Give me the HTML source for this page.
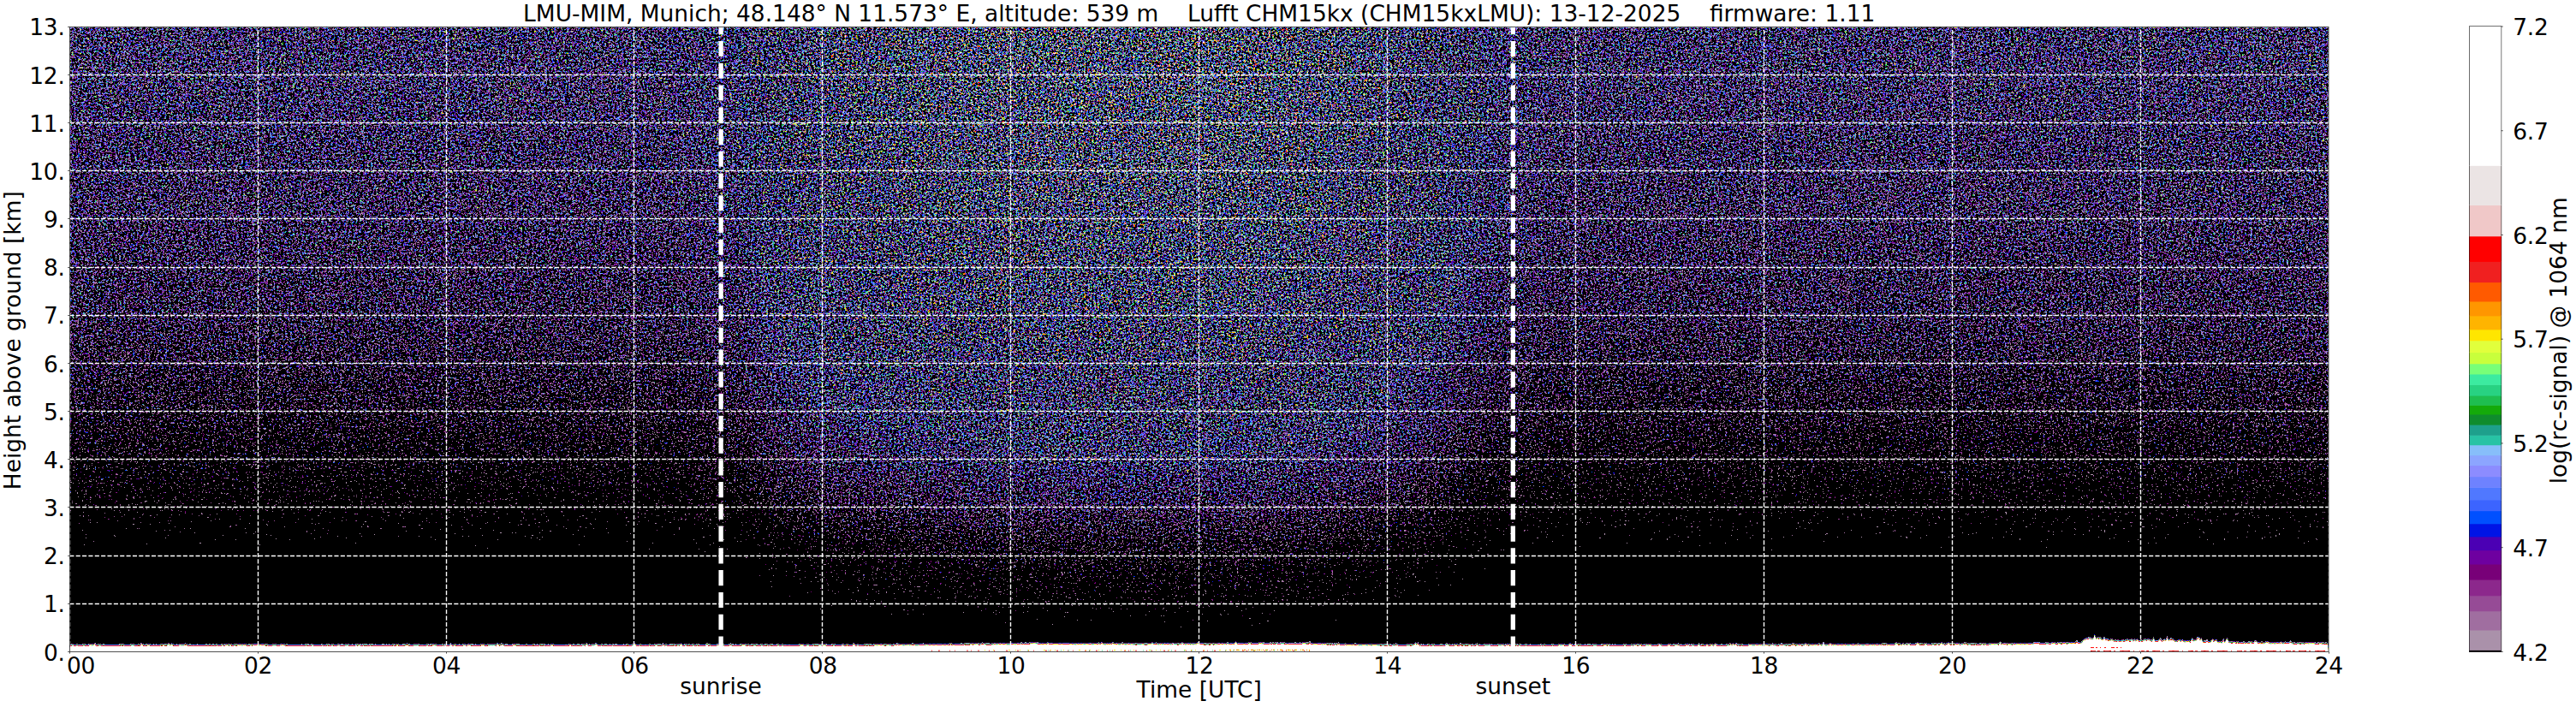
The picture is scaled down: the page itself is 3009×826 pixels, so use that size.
<!DOCTYPE html>
<html lang="en"><head><meta charset="utf-8"><title>CHM15kx ceilometer quicklook</title>
<style>html,body{margin:0;padding:0;background:#fff}svg{display:block}text.n{letter-spacing:-0.3px}text{font-family:"DejaVu Sans","Liberation Sans",sans-serif;font-size:26.45px;fill:#000}</style></head><body>
<svg width="3009" height="826" viewBox="0 0 3009 826">
<defs>
<linearGradient id="gy" gradientUnits="userSpaceOnUse" x1="0" y1="31.20" x2="0" y2="761.50"><stop offset="0.0000" stop-color="rgb(0,0,0)"/><stop offset="0.0192" stop-color="rgb(0,0,0)"/><stop offset="0.0385" stop-color="rgb(0,0,0)"/><stop offset="0.0577" stop-color="rgb(1,0,0)"/><stop offset="0.0769" stop-color="rgb(2,0,0)"/><stop offset="0.0962" stop-color="rgb(2,0,0)"/><stop offset="0.1154" stop-color="rgb(3,0,0)"/><stop offset="0.1346" stop-color="rgb(4,0,0)"/><stop offset="0.1538" stop-color="rgb(5,0,0)"/><stop offset="0.1731" stop-color="rgb(6,0,0)"/><stop offset="0.1923" stop-color="rgb(7,0,0)"/><stop offset="0.2115" stop-color="rgb(7,0,0)"/><stop offset="0.2308" stop-color="rgb(8,0,0)"/><stop offset="0.2500" stop-color="rgb(9,0,0)"/><stop offset="0.2692" stop-color="rgb(10,0,0)"/><stop offset="0.2885" stop-color="rgb(11,0,0)"/><stop offset="0.3077" stop-color="rgb(12,0,0)"/><stop offset="0.3269" stop-color="rgb(13,0,0)"/><stop offset="0.3462" stop-color="rgb(15,0,0)"/><stop offset="0.3654" stop-color="rgb(16,0,0)"/><stop offset="0.3846" stop-color="rgb(17,0,0)"/><stop offset="0.4038" stop-color="rgb(18,0,0)"/><stop offset="0.4231" stop-color="rgb(19,0,0)"/><stop offset="0.4423" stop-color="rgb(20,0,0)"/><stop offset="0.4615" stop-color="rgb(22,0,0)"/><stop offset="0.4808" stop-color="rgb(25,0,0)"/><stop offset="0.5000" stop-color="rgb(27,0,0)"/><stop offset="0.5192" stop-color="rgb(30,0,0)"/><stop offset="0.5385" stop-color="rgb(33,0,0)"/><stop offset="0.5577" stop-color="rgb(37,0,0)"/><stop offset="0.5769" stop-color="rgb(41,0,0)"/><stop offset="0.5962" stop-color="rgb(44,0,0)"/><stop offset="0.6154" stop-color="rgb(48,0,0)"/><stop offset="0.6346" stop-color="rgb(52,0,0)"/><stop offset="0.6538" stop-color="rgb(57,0,0)"/><stop offset="0.6731" stop-color="rgb(62,0,0)"/><stop offset="0.6923" stop-color="rgb(66,0,0)"/><stop offset="0.7115" stop-color="rgb(73,0,0)"/><stop offset="0.7308" stop-color="rgb(80,0,0)"/><stop offset="0.7500" stop-color="rgb(87,0,0)"/><stop offset="0.7692" stop-color="rgb(94,0,0)"/><stop offset="0.7885" stop-color="rgb(104,0,0)"/><stop offset="0.8077" stop-color="rgb(113,0,0)"/><stop offset="0.8269" stop-color="rgb(125,0,0)"/><stop offset="0.8462" stop-color="rgb(134,0,0)"/><stop offset="0.8654" stop-color="rgb(142,0,0)"/><stop offset="0.8846" stop-color="rgb(150,0,0)"/><stop offset="0.9038" stop-color="rgb(160,0,0)"/><stop offset="0.9231" stop-color="rgb(173,0,0)"/><stop offset="0.9269" stop-color="rgb(175,0,0)"/><stop offset="0.9308" stop-color="rgb(178,0,0)"/><stop offset="0.9346" stop-color="rgb(182,0,0)"/><stop offset="0.9385" stop-color="rgb(185,0,0)"/><stop offset="0.9423" stop-color="rgb(188,0,0)"/><stop offset="0.9462" stop-color="rgb(192,0,0)"/><stop offset="0.9500" stop-color="rgb(196,0,0)"/><stop offset="0.9538" stop-color="rgb(201,0,0)"/><stop offset="0.9577" stop-color="rgb(206,0,0)"/><stop offset="0.9615" stop-color="rgb(211,0,0)"/><stop offset="0.9654" stop-color="rgb(217,0,0)"/><stop offset="0.9692" stop-color="rgb(223,0,0)"/><stop offset="0.9731" stop-color="rgb(231,0,0)"/><stop offset="0.9769" stop-color="rgb(239,0,0)"/><stop offset="0.9808" stop-color="rgb(249,0,0)"/><stop offset="0.9846" stop-color="rgb(255,0,0)"/><stop offset="1" stop-color="rgb(255,0,0)"/></linearGradient>
<linearGradient id="gx" gradientUnits="userSpaceOnUse" x1="81.30" y1="0" x2="2720.00" y2="0"><stop offset="0.00000" stop-color="rgb(0,84,0)"/><stop offset="0.00521" stop-color="rgb(0,84,0)"/><stop offset="0.01042" stop-color="rgb(0,84,0)"/><stop offset="0.01562" stop-color="rgb(0,84,0)"/><stop offset="0.02083" stop-color="rgb(0,84,0)"/><stop offset="0.02604" stop-color="rgb(0,84,0)"/><stop offset="0.03125" stop-color="rgb(0,84,0)"/><stop offset="0.03646" stop-color="rgb(0,84,0)"/><stop offset="0.04167" stop-color="rgb(0,84,0)"/><stop offset="0.04688" stop-color="rgb(0,84,0)"/><stop offset="0.05208" stop-color="rgb(0,84,0)"/><stop offset="0.05729" stop-color="rgb(0,84,0)"/><stop offset="0.06250" stop-color="rgb(0,84,0)"/><stop offset="0.06771" stop-color="rgb(0,84,0)"/><stop offset="0.07292" stop-color="rgb(0,84,0)"/><stop offset="0.07812" stop-color="rgb(0,84,0)"/><stop offset="0.08333" stop-color="rgb(0,84,0)"/><stop offset="0.08854" stop-color="rgb(0,84,0)"/><stop offset="0.09375" stop-color="rgb(0,84,0)"/><stop offset="0.09896" stop-color="rgb(0,84,0)"/><stop offset="0.10417" stop-color="rgb(0,84,0)"/><stop offset="0.10938" stop-color="rgb(0,84,0)"/><stop offset="0.11458" stop-color="rgb(0,84,0)"/><stop offset="0.11979" stop-color="rgb(0,84,0)"/><stop offset="0.12500" stop-color="rgb(0,84,0)"/><stop offset="0.13021" stop-color="rgb(0,84,0)"/><stop offset="0.13542" stop-color="rgb(0,84,0)"/><stop offset="0.14062" stop-color="rgb(0,84,0)"/><stop offset="0.14583" stop-color="rgb(0,84,0)"/><stop offset="0.15104" stop-color="rgb(0,84,0)"/><stop offset="0.15625" stop-color="rgb(0,84,0)"/><stop offset="0.16146" stop-color="rgb(0,84,0)"/><stop offset="0.16667" stop-color="rgb(0,84,0)"/><stop offset="0.17188" stop-color="rgb(0,84,0)"/><stop offset="0.17708" stop-color="rgb(0,84,0)"/><stop offset="0.18229" stop-color="rgb(0,84,0)"/><stop offset="0.18750" stop-color="rgb(0,84,0)"/><stop offset="0.19271" stop-color="rgb(0,84,0)"/><stop offset="0.19792" stop-color="rgb(0,84,0)"/><stop offset="0.20312" stop-color="rgb(0,84,0)"/><stop offset="0.20833" stop-color="rgb(0,84,0)"/><stop offset="0.21354" stop-color="rgb(0,84,0)"/><stop offset="0.21875" stop-color="rgb(0,84,0)"/><stop offset="0.22396" stop-color="rgb(0,84,0)"/><stop offset="0.22917" stop-color="rgb(0,84,0)"/><stop offset="0.23438" stop-color="rgb(0,84,0)"/><stop offset="0.23958" stop-color="rgb(0,84,0)"/><stop offset="0.24479" stop-color="rgb(0,84,0)"/><stop offset="0.25000" stop-color="rgb(0,84,0)"/><stop offset="0.25521" stop-color="rgb(0,84,0)"/><stop offset="0.26042" stop-color="rgb(0,84,0)"/><stop offset="0.26562" stop-color="rgb(0,84,0)"/><stop offset="0.27083" stop-color="rgb(0,82,0)"/><stop offset="0.27604" stop-color="rgb(0,79,0)"/><stop offset="0.28125" stop-color="rgb(0,77,0)"/><stop offset="0.28646" stop-color="rgb(0,74,0)"/><stop offset="0.29167" stop-color="rgb(0,69,0)"/><stop offset="0.29688" stop-color="rgb(0,61,0)"/><stop offset="0.30208" stop-color="rgb(0,53,0)"/><stop offset="0.30729" stop-color="rgb(0,46,0)"/><stop offset="0.31250" stop-color="rgb(0,39,0)"/><stop offset="0.31771" stop-color="rgb(0,35,0)"/><stop offset="0.32292" stop-color="rgb(0,31,0)"/><stop offset="0.32812" stop-color="rgb(0,26,0)"/><stop offset="0.33333" stop-color="rgb(0,21,0)"/><stop offset="0.33854" stop-color="rgb(0,20,0)"/><stop offset="0.34375" stop-color="rgb(0,18,0)"/><stop offset="0.34896" stop-color="rgb(0,17,0)"/><stop offset="0.35417" stop-color="rgb(0,16,0)"/><stop offset="0.35938" stop-color="rgb(0,14,0)"/><stop offset="0.36458" stop-color="rgb(0,13,0)"/><stop offset="0.36979" stop-color="rgb(0,11,0)"/><stop offset="0.37500" stop-color="rgb(0,10,0)"/><stop offset="0.38021" stop-color="rgb(0,9,0)"/><stop offset="0.38542" stop-color="rgb(0,8,0)"/><stop offset="0.39062" stop-color="rgb(0,7,0)"/><stop offset="0.39583" stop-color="rgb(0,6,0)"/><stop offset="0.40104" stop-color="rgb(0,5,0)"/><stop offset="0.40625" stop-color="rgb(0,4,0)"/><stop offset="0.41146" stop-color="rgb(0,3,0)"/><stop offset="0.41667" stop-color="rgb(0,3,0)"/><stop offset="0.42188" stop-color="rgb(0,2,0)"/><stop offset="0.42708" stop-color="rgb(0,1,0)"/><stop offset="0.43229" stop-color="rgb(0,1,0)"/><stop offset="0.43750" stop-color="rgb(0,0,0)"/><stop offset="0.44271" stop-color="rgb(0,0,0)"/><stop offset="0.44792" stop-color="rgb(0,0,0)"/><stop offset="0.45312" stop-color="rgb(0,0,0)"/><stop offset="0.45833" stop-color="rgb(0,0,0)"/><stop offset="0.46354" stop-color="rgb(0,0,0)"/><stop offset="0.46875" stop-color="rgb(0,0,0)"/><stop offset="0.47396" stop-color="rgb(0,0,0)"/><stop offset="0.47917" stop-color="rgb(0,0,0)"/><stop offset="0.48438" stop-color="rgb(0,0,0)"/><stop offset="0.48958" stop-color="rgb(0,0,0)"/><stop offset="0.49479" stop-color="rgb(0,0,0)"/><stop offset="0.50000" stop-color="rgb(0,0,0)"/><stop offset="0.50521" stop-color="rgb(0,0,0)"/><stop offset="0.51042" stop-color="rgb(0,0,0)"/><stop offset="0.51562" stop-color="rgb(0,0,0)"/><stop offset="0.52083" stop-color="rgb(0,0,0)"/><stop offset="0.52604" stop-color="rgb(0,2,0)"/><stop offset="0.53125" stop-color="rgb(0,3,0)"/><stop offset="0.53646" stop-color="rgb(0,4,0)"/><stop offset="0.54167" stop-color="rgb(0,6,0)"/><stop offset="0.54688" stop-color="rgb(0,7,0)"/><stop offset="0.55208" stop-color="rgb(0,9,0)"/><stop offset="0.55729" stop-color="rgb(0,11,0)"/><stop offset="0.56250" stop-color="rgb(0,12,0)"/><stop offset="0.56771" stop-color="rgb(0,15,0)"/><stop offset="0.57292" stop-color="rgb(0,17,0)"/><stop offset="0.57812" stop-color="rgb(0,19,0)"/><stop offset="0.58333" stop-color="rgb(0,21,0)"/><stop offset="0.58854" stop-color="rgb(0,25,0)"/><stop offset="0.59375" stop-color="rgb(0,29,0)"/><stop offset="0.59896" stop-color="rgb(0,32,0)"/><stop offset="0.60417" stop-color="rgb(0,36,0)"/><stop offset="0.60938" stop-color="rgb(0,42,0)"/><stop offset="0.61458" stop-color="rgb(0,48,0)"/><stop offset="0.61979" stop-color="rgb(0,53,0)"/><stop offset="0.62500" stop-color="rgb(0,58,0)"/><stop offset="0.63021" stop-color="rgb(0,66,0)"/><stop offset="0.63542" stop-color="rgb(0,72,0)"/><stop offset="0.64062" stop-color="rgb(0,77,0)"/><stop offset="0.64583" stop-color="rgb(0,79,0)"/><stop offset="0.65104" stop-color="rgb(0,81,0)"/><stop offset="0.65625" stop-color="rgb(0,83,0)"/><stop offset="0.66146" stop-color="rgb(0,84,0)"/><stop offset="0.66667" stop-color="rgb(0,84,0)"/><stop offset="0.67188" stop-color="rgb(0,84,0)"/><stop offset="0.67708" stop-color="rgb(0,84,0)"/><stop offset="0.68229" stop-color="rgb(0,84,0)"/><stop offset="0.68750" stop-color="rgb(0,84,0)"/><stop offset="0.69271" stop-color="rgb(0,84,0)"/><stop offset="0.69792" stop-color="rgb(0,84,0)"/><stop offset="0.70312" stop-color="rgb(0,84,0)"/><stop offset="0.70833" stop-color="rgb(0,84,0)"/><stop offset="0.71354" stop-color="rgb(0,84,0)"/><stop offset="0.71875" stop-color="rgb(0,84,0)"/><stop offset="0.72396" stop-color="rgb(0,84,0)"/><stop offset="0.72917" stop-color="rgb(0,84,0)"/><stop offset="0.73438" stop-color="rgb(0,84,0)"/><stop offset="0.73958" stop-color="rgb(0,84,0)"/><stop offset="0.74479" stop-color="rgb(0,84,0)"/><stop offset="0.75000" stop-color="rgb(0,84,0)"/><stop offset="0.75521" stop-color="rgb(0,84,0)"/><stop offset="0.76042" stop-color="rgb(0,84,0)"/><stop offset="0.76562" stop-color="rgb(0,84,0)"/><stop offset="0.77083" stop-color="rgb(0,84,0)"/><stop offset="0.77604" stop-color="rgb(0,84,0)"/><stop offset="0.78125" stop-color="rgb(0,84,0)"/><stop offset="0.78646" stop-color="rgb(0,84,0)"/><stop offset="0.79167" stop-color="rgb(0,84,0)"/><stop offset="0.79688" stop-color="rgb(0,84,0)"/><stop offset="0.80208" stop-color="rgb(0,84,0)"/><stop offset="0.80729" stop-color="rgb(0,84,0)"/><stop offset="0.81250" stop-color="rgb(0,84,0)"/><stop offset="0.81771" stop-color="rgb(0,84,0)"/><stop offset="0.82292" stop-color="rgb(0,84,0)"/><stop offset="0.82812" stop-color="rgb(0,84,0)"/><stop offset="0.83333" stop-color="rgb(0,84,0)"/><stop offset="0.83854" stop-color="rgb(0,84,0)"/><stop offset="0.84375" stop-color="rgb(0,84,0)"/><stop offset="0.84896" stop-color="rgb(0,84,0)"/><stop offset="0.85417" stop-color="rgb(0,84,0)"/><stop offset="0.85938" stop-color="rgb(0,84,0)"/><stop offset="0.86458" stop-color="rgb(0,84,0)"/><stop offset="0.86979" stop-color="rgb(0,84,0)"/><stop offset="0.87500" stop-color="rgb(0,84,0)"/><stop offset="0.88021" stop-color="rgb(0,84,0)"/><stop offset="0.88542" stop-color="rgb(0,84,0)"/><stop offset="0.89062" stop-color="rgb(0,84,0)"/><stop offset="0.89583" stop-color="rgb(0,84,0)"/><stop offset="0.90104" stop-color="rgb(0,84,0)"/><stop offset="0.90625" stop-color="rgb(0,84,0)"/><stop offset="0.91146" stop-color="rgb(0,84,0)"/><stop offset="0.91667" stop-color="rgb(0,84,0)"/><stop offset="0.92188" stop-color="rgb(0,84,0)"/><stop offset="0.92708" stop-color="rgb(0,84,0)"/><stop offset="0.93229" stop-color="rgb(0,84,0)"/><stop offset="0.93750" stop-color="rgb(0,84,0)"/><stop offset="0.94271" stop-color="rgb(0,84,0)"/><stop offset="0.94792" stop-color="rgb(0,84,0)"/><stop offset="0.95312" stop-color="rgb(0,84,0)"/><stop offset="0.95833" stop-color="rgb(0,84,0)"/><stop offset="0.96354" stop-color="rgb(0,84,0)"/><stop offset="0.96875" stop-color="rgb(0,84,0)"/><stop offset="0.97396" stop-color="rgb(0,84,0)"/><stop offset="0.97917" stop-color="rgb(0,84,0)"/><stop offset="0.98438" stop-color="rgb(0,84,0)"/><stop offset="0.98958" stop-color="rgb(0,84,0)"/><stop offset="0.99479" stop-color="rgb(0,84,0)"/><stop offset="1.00000" stop-color="rgb(0,84,0)"/></linearGradient>
<filter id="nf" filterUnits="userSpaceOnUse" x="81.30" y="31.20" width="2638.70" height="730.30" color-interpolation-filters="sRGB">
<feTurbulence type="fractalNoise" baseFrequency="0.45 0.41" numOctaves="2" seed="3"/><feColorMatrix type="matrix" values="1 0 0 0 0 1 0 0 0 0 1 0 0 0 0 0 0 0 0 1" result="c1"/><feTurbulence type="fractalNoise" baseFrequency="0.38 0.47" numOctaves="2" seed="11"/><feColorMatrix type="matrix" values="1 0 0 0 0 1 0 0 0 0 1 0 0 0 0 0 0 0 0 1" result="c2"/><feComposite in="c1" in2="c2" operator="arithmetic" k1="0" k2=".75" k3=".75" k4="-.25" result="t"/>
<feComponentTransfer in="t" result="hh"><feFuncR type="table" tableValues="1 1 1 1 1 1 1 1 1 1 1 1 1 1 1 1 1 1 1 1 1 1 1 1 1 1 1 1 1 1 1 1 1 1 1 1 1 1 1 1 1 1 1 1 1 1 1 1 1 1 1 1 1 1 1 1 1 1 1 1 1 1 1 1 1 1 1 1 1 1 1 1 1 1 1 1 1 1 1 1 1 1 1 1 1 1 1 1 1 1 1 1 1 1 1 1 1 1 1 1 1 1 1 1 1 1 1 1 .9422 .8706 .7971 .7519 .722 .6913 .6676 .6441 .6229 .6124 .6015 .5903 .5789 .5694 .562 .5543 .5465 .5384 .5301 .5217 .5129 .5074 .5032 .4988 .4944 .4899 .4853 .4805 .4757 .4708 .4667 .4631 .4595 .4558 .452 .4482 .4442 .4402 .4362 .432 .4278 .4236 .4191 .4145 .4097 .4047 .3997 .3945 .3893 .384 .3786 .3734 .3683 .3632 .358 .3528 .3474 .3418 .3363 .3306 .3248 .3195 .3145 .3093 .3041 .2987 .2933 .2882 .2833 .2784 .2733 .2681 .2629 .2576 .2522 .2477 .2437 .2398 .2358 .2317 .2274 .2231 .2187 .2144 .21 .2054 .2007 .1961 .1913 .1864 .1814 .1762 .1711 .1661 .1624 .1587 .1549 .1511 .1474 .1435 .1395 .1352 .131 .1268 .1235 .121 .1184 .1157 .113 .1103 .1075 .1047 .1018 .0989 .096 .093 .0901 .087 .0838 .0808 .0776 .0744 .0711 .0678 .0645 .0625 .0625 .0625 .0625 .0625 .0625 .0625 .0625 .0625 .0625 .0625 .0625 .0625 .0625 .0625 .0625 .0625 .0625 .0625 .0625 .0625 .0625 .0625"/><feFuncG type="table" tableValues="1 1 1 1 1 1 1 1 1 1 1 1 1 1 1 1 1 1 1 1 1 1 1 1 1 1 1 1 1 1 1 1 1 1 1 1 1 1 1 1 1 1 1 1 1 1 1 1 1 1 1 1 1 1 1 1 1 1 1 1 1 1 1 1 1 1 1 1 1 1 1 1 1 1 1 1 1 1 1 1 1 1 1 1 1 1 1 1 1 1 1 1 1 1 1 1 1 1 1 1 1 1 1 1 1 1 1 1 .9422 .8706 .7971 .7378 .6854 .6317 .6051 .5816 .559 .5414 .5232 .5046 .4917 .4805 .4689 .457 .4488 .4431 .4372 .4313 .4251 .4188 .4124 .4059 .3992 .3923 .3853 .3786 .3747 .3707 .3667 .3625 .3583 .354 .3496 .3451 .3405 .3358 .3319 .3289 .3258 .3227 .3195 .3162 .3128 .3094 .306 .3024 .2989 .2952 .2915 .2878 .2839 .28 .276 .2722 .2693 .2663 .2633 .2603 .2571 .254 .2508 .2475 .2442 .2405 .2367 .2327 .2288 .2248 .2207 .2172 .2136 .21 .2063 .2026 .1988 .195 .1912 .1873 .1837 .1801 .1765 .1728 .1692 .1654 .1617 .1579 .154 .15 .146 .1441 .1422 .1403 .1384 .1364 .1344 .1324 .1305 .1284 .1263 .1241 .1218 .1196 .1173 .1151 .1127 .1103 .1079 .1055 .1029 .1004 .0978 .0952 .0926 .0899 .0873 .0845 .0817 .0789 .0761 .0732 .0703 .0673 .0643 .0625 .0625 .0625 .0625 .0625 .0625 .0625 .0625 .0625 .0625 .0625 .0625 .0625 .0625 .0625 .0625 .0625 .0625 .0625 .0625 .0625 .0625 .0625"/><feFuncB type="table" tableValues="1 1 1 1 1 1 1 1 1 1 1 1 1 1 1 1 1 1 1 1 1 1 1 1 1 1 1 1 1 1 1 1 1 1 1 1 1 1 1 1 1 1 1 1 1 1 1 1 1 1 1 1 1 1 1 1 1 1 1 1 1 1 1 1 1 1 1 1 1 1 1 1 1 1 1 1 1 1 1 1 1 1 1 1 1 1 1 1 1 1 1 1 1 1 1 1 1 1 1 1 1 1 1 1 1 1 1 1 1 1 1 1 1 1 1 1 1 1 .7618 .5924 .5256 .4771 .4483 .4186 .4036 .399 .3944 .3896 .3847 .3796 .3754 .3712 .3668 .3624 .3579 .3533 .3488 .3445 .3402 .3358 .3313 .3267 .3222 .3183 .3144 .3105 .3065 .3023 .2982 .2939 .2902 .287 .2838 .2805 .2772 .2738 .2704 .2669 .2633 .2597 .256 .2523 .2484 .2446 .2406 .237 .2335 .23 .2264 .2228 .2191 .2153 .2115 .2077 .2037 .1997 .1962 .1932 .19 .1868 .1836 .1803 .1769 .1735 .1701 .1667 .1632 .1596 .1559 .1522 .1484 .1449 .1418 .1386 .1354 .1323 .129 .1257 .1223 .1188 .1152 .1117 .108 .1043 .1006 .0968 .0936 .0927 .0917 .0907 .0896 .0886 .0876 .0866 .0855 .0844 .0833 .0822 .081 .0798 .0787 .0775 .0763 .075 .0738 .0726 .0713 .07 .0687 .0674 .066 .0647 .0633 .0625 .0625 .0625 .0625 .0625 .0625 .0625 .0625 .0625 .0625 .0625 .0625 .0625 .0625 .0625 .0625 .0625 .0625 .0625 .0625 .0625 .0625 .0625"/></feComponentTransfer>
<feColorMatrix in="SourceGraphic" type="matrix" values="1 1 0 0 0 1 1 0 0 0 1 1 0 0 0 0 0 0 0 1" result="m"/>
<feComponentTransfer in="m" result="A1"><feFuncR type="table" tableValues="1 .99 .9799 .9699 .9598 .9498 .9398 .9297 .9197 .9096 .8996 .8889 .8783 .8677 .857 .8464 .8358 .8251 .8145 .8039 .7932 .7826 .772 .7613 .7507 .7401 .7294 .7188 .7082 .6975 .6869 .6763 .6656 .655 .6389 .618 .5971 .5761 .5552 .5343 .5134 .4925 .4716 .4507 .4297 .4088 .3879 .367 .3464 .3273 .3082 .2891 .27 .2509 .2318 .2127 .1936 .1746 .1555 .1364 .1173 .0982 .0791 .06 .0409 .0218 .0027 0 0 0 0 0 0 0 0 0 0 0 0 0 0 0 0 0 0 0 0 0 0 0 0 0 0 0 0 0 0 0 0 0 0 0 0 0 0 0 0 0 0 0 0 0 0 0 0 0 0 0 0 0 0 0 0 0 0 0 0 0 0 0 0 0 0 0 0 0 0 0 0 0 0 0 0 0 0 0 0 0 0 0 0 0 0 0 0 0 0 0 0 0 0 0 0 0 0 0 0 0 0 0 0 0 0 0 0 0 0 0 0 0 0 0 0 0 0 0 0 0 0 0 0 0 0 0 0 0 0 0 0 0 0 0 0 0 0 0 0 0 0 0 0 0 0 0 0 0 0 0 0 0 0 0 0 0 0 0 0 0 0 0 0 0 0 0 0 0 0 0 0 0 0 0 0 0 0 0 0 0 0 0 0 0 0 0 0 0"/><feFuncG type="table" tableValues="0 .01 .0201 .0301 .0402 .0502 .0602 .0703 .0803 .0904 .1004 .1111 .1217 .1323 .143 .1536 .1642 .1749 .1855 .1961 .2068 .2174 .228 .2387 .2493 .2599 .2706 .2812 .2918 .3025 .3131 .3237 .3344 .345 .3611 .382 .4029 .4239 .4448 .4657 .4866 .5075 .5284 .5493 .5703 .5912 .6121 .633 .6536 .6727 .6918 .7109 .73 .7491 .7682 .7873 .8064 .8254 .8445 .8636 .8827 .9018 .9209 .94 .9591 .9782 .9973 1 1 1 1 1 1 1 1 1 1 1 1 1 1 1 1 1 1 1 1 1 1 1 1 1 1 1 1 1 1 1 1 1 1 1 1 1 1 1 1 1 1 1 1 1 1 1 1 1 1 1 1 1 1 1 1 1 1 1 1 1 1 1 1 1 1 1 1 1 1 1 1 1 1 1 1 1 1 1 1 1 1 1 1 1 1 1 1 1 1 1 1 1 1 1 1 1 1 1 1 1 1 1 1 1 1 1 1 1 1 1 1 1 1 1 1 1 1 1 1 1 1 1 1 1 1 1 1 1 1 1 1 1 1 1 1 1 1 1 1 1 1 1 1 1 1 1 1 1 1 1 1 1 1 1 1 1 1 1 1 1 1 1 1 1 1 1 1 1 1 1 1 1 1 1 1 1 1 1 1 1 1 1 1 1 1 1 1 1"/><feFuncB type="table" tableValues="1 1"/></feComponentTransfer>
<feColorMatrix in="SourceGraphic" type="matrix" values="0 1 0 0 0 0 1 0 0 0 0 1 0 0 0 0 0 0 0 1"/>
<feComponentTransfer result="A2"><feFuncR type="table" tableValues="1 1 1 1 1 1 1 1 1 1 1 1 1 1 1 1 1 1 1 1 1 1 1 1 1 1 1 1 1 1 1 1 1 1 1 1 1 1 1 1 1 1 1 1 1 1 1 1 1 1 1 1 1 1 1 1 1 1 1 1 .9996 .989 .9651 .9295 .8837 .8292 .7675 .7002 .6287 .5546 .4794 .4046 .3318 .2624 .198 .14 .0901 .0497 .0203 .0035 0 0 0 0 0 0 0 0 0 0 0 0 0 0 0 0 0 0 0 0 0 0 0 0 0 0 0 0 0 0 0 0 0 0 0 0 0 0 0 0 0 0 0 0 0 0 0 0 0 0 0 0 0 0 0 0 0 0 0 0 0 0 0 0 0 0 0 0 0 0 0 0 0 0 0 0 0 0 0 0 0 0 0 0 0 0 0 0 0 0 0 0 0 0 0 0 0 0 0 0 0 0 0 0 0 0 0 0 0 0 0 0 0 0 0 0 0 0 0 0 0 0 0 0 0 0 0 0 0 0 0 0 0 0 0 0 0 0 0 0 0 0 0 0 0 0 0 0 0 0 0 0 0 0 0 0 0 0 0 0 0 0 0 0 0 0 0 0 0 0 0 0 0 0 0 0"/><feFuncG type="table" tableValues="1 1 1 1 1 1 1 1 1 1 1 1 1 1 1 1 1 1 1 1 1 1 1 1 1 1 1 1 1 1 1 1 1 1 1 1 1 1 1 1 1 1 1 1 1 1 1 1 1 1 1 1 1 1 1 1 1 1 1 1 .9996 .989 .9651 .9295 .8837 .8292 .7675 .7002 .6287 .5546 .4794 .4046 .3318 .2624 .198 .14 .0901 .0497 .0203 .0035 0 0 0 0 0 0 0 0 0 0 0 0 0 0 0 0 0 0 0 0 0 0 0 0 0 0 0 0 0 0 0 0 0 0 0 0 0 0 0 0 0 0 0 0 0 0 0 0 0 0 0 0 0 0 0 0 0 0 0 0 0 0 0 0 0 0 0 0 0 0 0 0 0 0 0 0 0 0 0 0 0 0 0 0 0 0 0 0 0 0 0 0 0 0 0 0 0 0 0 0 0 0 0 0 0 0 0 0 0 0 0 0 0 0 0 0 0 0 0 0 0 0 0 0 0 0 0 0 0 0 0 0 0 0 0 0 0 0 0 0 0 0 0 0 0 0 0 0 0 0 0 0 0 0 0 0 0 0 0 0 0 0 0 0 0 0 0 0 0 0 0 0 0 0 0 0"/><feFuncB type="table" tableValues="0 0 0 0 0 0 0 0 0 0 0 0 0 0 0 0 0 0 0 0 0 0 0 0 0 0 0 0 0 0 0 0 0 0 0 0 0 0 0 0 0 0 0 0 0 0 0 0 0 0 0 0 0 0 0 0 0 0 0 0 .0004 .011 .0349 .0705 .1163 .1708 .2325 .2998 .3713 .4454 .5206 .5954 .6682 .7376 .802 .86 .9099 .9503 .9797 .9965 1 1 1 1 1 1 1 1 1 1 1 1 1 1 1 1 1 1 1 1 1 1 1 1 1 1 1 1 1 1 1 1 1 1 1 1 1 1 1 1 1 1 1 1 1 1 1 1 1 1 1 1 1 1 1 1 1 1 1 1 1 1 1 1 1 1 1 1 1 1 1 1 1 1 1 1 1 1 1 1 1 1 1 1 1 1 1 1 1 1 1 1 1 1 1 1 1 1 1 1 1 1 1 1 1 1 1 1 1 1 1 1 1 1 1 1 1 1 1 1 1 1 1 1 1 1 1 1 1 1 1 1 1 1 1 1 1 1 1 1 1 1 1 1 1 1 1 1 1 1 1 1 1 1 1 1 1 1 1 1 1 1 1 1 1 1 1 1 1 1 1 1 1 1 1 1"/></feComponentTransfer>
<feComposite in="A1" in2="A2" operator="arithmetic" k1="1" k2="0" k3="0" k4="0" result="W"/>
<feComposite in="hh" in2="W" operator="arithmetic" k1="1" k2="0" k3="0" k4="0"/>
<feColorMatrix type="matrix" values="1.5000 1.5000 1.5000 0 0 1.5000 1.5000 1.5000 0 0 1.5000 1.5000 1.5000 0 0 0 0 0 0 1" result="s"/>
<feComposite in="m" in2="s" operator="arithmetic" k1="0" k2="1" k3="1" k4="0" result="n"/>
<feColorMatrix in="SourceGraphic" type="matrix" values="0 0 -1 0 1 0 0 -1 0 1 0 0 -1 0 1 0 0 0 0 1" result="ib"/>
<feComposite in="n" in2="ib" operator="arithmetic" k1="1" k2="0" k3="0" k4="0" result="n2"/>
<feComponentTransfer in="n2"><feFuncR type="discrete" tableValues="1 1 1 1 1 1 1 1 1 1 1 1 1 1 1 1 1 1 1 1 1 1 1 1 1 1 1 1 1 1 1 1 1 1 1 1 1 1 1 1 1 1 1 1 1 1 1 1 1 1 1 1 1 1 .9216 .9216 .9216 .9216 .9216 .9216 .9216 .9216 .9216 .9216 .9216 .9216 .9216 .9216 .9216 .9412 .9412 .9412 .9412 .9412 .9412 .9412 .9412 .9412 .9412 .9412 .9412 1 1 1 1 1 1 1 1 1 .9412 .9412 .9412 .9412 .9412 .9412 .9412 .9412 1 1 1 1 1 1 1 1 1 1 1 1 1 1 1 1 1 1 1 1 1 1 1 .8824 .8824 .8824 .8824 .7843 .7843 .7843 .7843 .4706 .4706 .4706 .4706 .2353 .2353 .2353 .2353 .1569 .1569 .1569 .1569 .1569 .1176 .1176 .1176 .0784 .0784 .0784 .0784 .0588 .0588 .0588 .0588 .1176 .1176 .1176 .1176 .1569 .1569 .1569 .5294 .5294 .5294 .5294 .549 .549 .549 .549 .549 .549 .549 .549 .549 .4314 .4314 .4314 .4314 .3137 .3137 .3137 .3137 .2353 .2353 .2353 .2353 .2353 0 0 0 0 0 0 0 0 0 .2941 .2941 .2941 .2941 .2941 .2941 .4314 .4314 .4314 .4314 .4314 .4706 .4706 .4706 .4706 .4706 .4706 .549 .549 .549 .549 .549 .549 .5882 .5882 .5882 .5882 .5882 .5882 .6275 .6275 .6275 .6275 .6275 .6275 .6275 .6667 .6667 .6667 .6667 .6667 .6667 .6667 .6667 .6667 0 0 0 0 0 0 0 0 0 0 0 0 0 0 0 0"/><feFuncG type="discrete" tableValues="1 1 1 1 1 1 1 1 1 1 1 1 1 1 1 1 1 1 1 1 1 1 1 1 1 1 1 1 1 1 1 1 1 1 1 1 1 1 1 1 1 1 1 1 1 1 1 1 1 1 1 1 1 1 .8941 .8941 .8941 .8941 .8941 .8941 .8941 .8941 .8941 .8941 .8941 .8941 .8941 .8941 .8941 .7843 .7843 .7843 .7843 .7843 .7843 .7843 .7843 .7843 .7843 .7843 .7843 0 0 0 0 0 0 0 0 0 .1255 .1255 .1255 .1255 .1255 .1255 .1255 .1255 .3529 .3529 .3529 .3529 .3529 .3529 .3529 .3529 .5882 .5882 .5882 .5882 .5882 .7059 .7059 .7059 .7059 .7059 .902 .902 .902 .902 .902 1 1 1 1 1 1 1 1 1 1 1 1 .9216 .9216 .9216 .9216 .8235 .8235 .8235 .8235 .8235 .7451 .7451 .7451 .6667 .6667 .6667 .6667 .549 .549 .549 .549 .6275 .6275 .6275 .6275 .7647 .7647 .7647 .7451 .7451 .7451 .7451 .6471 .6471 .6471 .6471 .549 .549 .549 .549 .549 .5098 .5098 .5098 .5098 .4706 .4706 .4706 .4706 .3922 .3922 .3922 .3922 .3922 .3137 .3137 .3137 .3137 .3137 .0784 .0784 .0784 .0784 0 0 0 0 0 0 0 0 0 0 0 0 0 0 0 0 0 .1569 .1569 .1569 .1569 .1569 .1569 .2941 .2941 .2941 .2941 .2941 .2941 .4314 .4314 .4314 .4314 .4314 .4314 .4314 .5686 .5686 .5686 .5686 .5686 .5686 .5686 .5686 .5686 0 0 0 0 0 0 0 0 0 0 0 0 0 0 0 0"/><feFuncB type="discrete" tableValues="1 1 1 1 1 1 1 1 1 1 1 1 1 1 1 1 1 1 1 1 1 1 1 1 1 1 1 1 1 1 1 1 1 1 1 1 1 1 1 1 1 1 1 1 1 1 1 1 1 1 1 1 1 1 .8941 .8941 .8941 .8941 .8941 .8941 .8941 .8941 .8941 .8941 .8941 .8941 .8941 .8941 .8941 .7843 .7843 .7843 .7843 .7843 .7843 .7843 .7843 .7843 .7843 .7843 .7843 0 0 0 0 0 0 0 0 0 .1255 .1255 .1255 .1255 .1255 .1255 .1255 .1255 0 0 0 0 0 0 0 0 0 0 0 0 0 0 0 0 0 0 0 0 0 0 0 .2353 .2353 .2353 .2353 .2353 .2353 .2353 .2353 .4706 .4706 .4706 .4706 .6275 .6275 .6275 .6275 .5098 .5098 .5098 .5098 .5098 .3137 .3137 .3137 .0392 .0392 .0392 .0392 .1765 .1765 .1765 .1765 .549 .549 .549 .549 .6471 .6471 .6471 .9804 .9804 .9804 .9804 1 1 1 1 1 1 1 1 1 1 1 1 1 1 1 1 1 1 1 1 1 1 1 1 1 1 1 .902 .902 .902 .902 .7059 .7059 .7059 .7059 .7059 .7059 .6275 .6275 .6275 .6275 .6275 .4706 .4706 .4706 .4706 .4706 .4706 .549 .549 .549 .549 .549 .549 .5882 .5882 .5882 .5882 .5882 .5882 .6275 .6275 .6275 .6275 .6275 .6275 .6275 .6667 .6667 .6667 .6667 .6667 .6667 .6667 .6667 .6667 0 0 0 0 0 0 0 0 0 0 0 0 0 0 0 0"/></feComponentTransfer>
</filter>
<path id="gl" d="M81.3,761.5L82,754.1 83.6,753.9 85.2,753.3 86.8,754 88.4,754 90,753.7 91.6,754 93.2,753.9 94.8,754.2 96.4,753.9 98,753.6 99.6,753.9 101.2,754.1 102.8,754.2 104.4,753.5 106,753.4 107.6,753.6 109.2,753.5 110.8,752.1 112.4,754.1 114,753.8 115.6,753.6 117.2,753.7 118.8,754 120.4,753.8 122,753.8 123.6,754.1 125.2,754.1 126.8,754.1 128.4,754.1 130,754 131.6,754.1 133.2,754.1 134.8,754.2 136.4,754.2 138,754.1 139.6,753.9 141.2,753.6 142.8,753.8 144.4,753.6 146,754.2 147.6,754 149.2,754.2 150.8,754 152.4,753.9 154,753.5 155.6,753.5 157.2,753.9 158.8,754.1 160.4,754.1 162,753.6 163.6,754.1 165.2,752.1 166.8,753.7 168.4,754 170,753.8 171.6,753.8 173.2,753.2 174.8,753.6 176.4,754.1 178,754.2 179.6,753.9 181.2,754.1 182.8,753.9 184.4,754.1 186,754 187.6,753.7 189.2,753.9 190.8,753.1 192.4,753.9 194,753.8 195.6,753.6 197.2,751.9 198.8,754.1 200.4,752.3 202,753.6 203.6,754.1 205.2,754.2 206.8,753.9 208.4,754.1 210,753.3 211.6,753.7 213.2,753.7 214.8,753.6 216.4,752.6 218,753.7 219.6,754 221.2,753.9 222.8,753.8 224.4,754 226,753.9 227.6,754.1 229.2,754 230.8,753.8 232.4,754 234,754 235.6,754.1 237.2,754 238.8,754 240.4,753.8 242,753.8 243.6,754.1 245.2,753.6 246.8,754.1 248.4,753.8 250,753.8 251.6,754.1 253.2,753.5 254.8,754.1 256.4,754.1 258,754.1 259.6,753.3 261.2,754 262.8,753.9 264.4,753.1 266,753.5 267.6,753.9 269.2,753.4 270.8,753.9 272.4,754.2 274,753.5 275.6,753.8 277.2,753.7 278.8,753.3 280.4,753.2 282,753.6 283.6,753.6 285.2,753 286.8,753.3 288.4,754 290,753.9 291.6,753.8 293.2,753.3 294.8,753.9 296.4,753 298,753.1 299.6,753 301.2,753.5 302.8,753.6 304.4,753.3 306,753.1 307.6,753.2 309.2,753.6 310.8,753.9 312.4,753.6 314,754.1 315.6,754.1 317.2,754 318.8,753.7 320.4,753.7 322,753.7 323.6,754 325.2,753.9 326.8,754.1 328.4,752.9 330,753.6 331.6,753.2 333.2,754.1 334.8,753.7 336.4,754 338,754 339.6,754 341.2,754 342.8,754.1 344.4,754.1 346,754.2 347.6,754.1 349.2,754.1 350.8,754 352.4,753.8 354,754.2 355.6,754.2 357.2,753.7 358.8,753.8 360.4,753.9 362,754.1 363.6,753.9 365.2,753.4 366.8,754.1 368.4,754.2 370,754 371.6,754.1 373.2,754 374.8,754 376.4,753.7 378,754.1 379.6,754.1 381.2,753.9 382.8,753.6 384.4,753.8 386,754 387.6,753.6 389.2,753.7 390.8,754.1 392.4,754 394,754 395.6,752.8 397.2,754.2 398.8,753.8 400.4,753.8 402,754.1 403.6,753.7 405.2,753.6 406.8,753.5 408.4,754.1 410,754 411.6,753.8 413.2,754 414.8,754 416.4,753.5 418,753.9 419.6,753.4 421.2,753.8 422.8,754.1 424.4,753.5 426,753.8 427.6,753.9 429.2,753.8 430.8,754 432.4,753.7 434,753.9 435.6,753.8 437.2,754.2 438.8,753.8 440.4,754.2 442,754.1 443.6,754 445.2,754.2 446.8,753.8 448.4,753.9 450,754 451.6,753.8 453.2,754.1 454.8,753.9 456.4,754.1 458,753.9 459.6,753.6 461.2,754.2 462.8,753.6 464.4,753.4 466,753.9 467.6,754.2 469.2,754.1 470.8,753.9 472.4,753.9 474,753.7 475.6,752.6 477.2,753.8 478.8,753.9 480.4,754.1 482,754.1 483.6,753.7 485.2,753.7 486.8,753.6 488.4,753.5 490,753.8 491.6,754 493.2,753.8 494.8,754 496.4,754.2 498,753.9 499.6,753.5 501.2,754.1 502.8,753.9 504.4,753.9 506,752.9 507.6,753.7 509.2,753.6 510.8,754 512.4,754 514,753.8 515.6,754.1 517.2,753.7 518.8,754 520.4,753.5 522,754 523.6,754.2 525.2,754.2 526.8,752.5 528.4,754 530,753.8 531.6,753.4 533.2,754.1 534.8,754 536.4,753.9 538,754 539.6,754.1 541.2,753.7 542.8,753.2 544.4,754.1 546,753.9 547.6,752.8 549.2,753.5 550.8,753.8 552.4,753.9 554,754.1 555.6,753.9 557.2,754.1 558.8,754.2 560.4,754.1 562,753.7 563.6,753 565.2,753.5 566.8,754 568.4,754.2 570,753.7 571.6,753.7 573.2,753.5 574.8,753.7 576.4,753.5 578,753.7 579.6,754 581.2,751.8 582.8,753.6 584.4,753.8 586,752.4 587.6,753.4 589.2,754 590.8,753.8 592.4,753.8 594,754 595.6,754 597.2,754.1 598.8,753.9 600.4,752.8 602,753.6 603.6,753.8 605.2,753.9 606.8,753.9 608.4,754 610,753.9 611.6,754.2 613.2,754.2 614.8,753.6 616.4,754 618,754 619.6,754.1 621.2,754.1 622.8,753.7 624.4,753.9 626,754 627.6,753.9 629.2,754 630.8,753.7 632.4,753.9 634,753.9 635.6,753.7 637.2,754 638.8,754 640.4,753.9 642,754.1 643.6,753.6 645.2,753.1 646.8,753.9 648.4,754 650,754.1 651.6,754.1 653.2,754.1 654.8,754 656.4,754 658,754.2 659.6,754 661.2,753.9 662.8,754 664.4,753.8 666,753.2 667.6,754 669.2,753.8 670.8,753.9 672.4,754.2 674,753.8 675.6,753.8 677.2,753.9 678.8,754.1 680.4,753.7 682,753.6 683.6,754 685.2,751.6 686.8,754.2 688.4,753.8 690,754.1 691.6,753.6 693.2,753.6 694.8,753.5 696.4,751.9 698,753.8 699.6,754.1 701.2,754 702.8,753.6 704.4,754.2 706,753.8 707.6,753.9 709.2,753.9 710.8,754 712.4,753.9 714,754.1 715.6,753.6 717.2,754.1 718.8,753.8 720.4,753.8 722,754.1 723.6,754 725.2,754 726.8,754.2 728.4,753.9 730,754.1 731.6,753.8 733.2,753.7 734.8,754.1 736.4,754 738,753.8 739.6,753.5 741.2,751.8 742.8,753.8 744.4,754.1 746,754.2 747.6,753.7 749.2,753.8 750.8,754.2 752.4,754 754,753.8 755.6,754 757.2,754 758.8,753.5 760.4,754.1 762,753.9 763.6,754.2 765.2,753.7 766.8,753.4 768.4,753.9 770,753.8 771.6,753.8 773.2,754 774.8,752.7 776.4,754.2 778,753.5 779.6,754.2 781.2,754 782.8,753.9 784.4,753.9 786,753.9 787.6,753.6 789.2,754.1 790.8,753.6 792.4,753.6 794,753.9 795.6,752.1 797.2,754.1 798.8,754 800.4,753.7 802,753.7 803.6,754.2 805.2,753.7 806.8,754.1 808.4,753.8 810,753.7 811.6,754 813.2,753.9 814.8,753.6 816.4,753.9 818,754.2 819.6,754.2 821.2,754.1 822.8,754 824.4,754 826,752.2 827.6,754.1 829.2,753.5 830.8,754 832.4,754.1 834,754 835.6,754 837.2,754 838.8,752.9 840.4,753.7 842,753.9 843.6,754.1 845.2,753.6 846.8,754 848.4,754 850,754.1 851.6,753.9 853.2,752.7 854.8,753.8 856.4,753.9 858,754.1 859.6,753.8 861.2,754.1 862.8,754 864.4,753.9 866,753.8 867.6,753.3 869.2,753.4 870.8,753.6 872.4,754.2 874,753.6 875.6,754 877.2,753.9 878.8,753.8 880.4,753.7 882,753.6 883.6,753.8 885.2,753.8 886.8,754.1 888.4,753.9 890,753.5 891.6,754.2 893.2,753.8 894.8,753.9 896.4,753.6 898,754.2 899.6,753.6 901.2,753.8 902.8,753.8 904.4,754.1 906,754 907.6,753.9 909.2,753.5 910.8,754.2 912.4,754.2 914,753.5 915.6,754 917.2,753.8 918.8,754.2 920.4,754 922,753.9 923.6,754 925.2,754.2 926.8,754 928.4,754 930,754.1 931.6,754.2 933.2,753.8 934.8,753.6 936.4,753.4 938,753.4 939.6,754.1 941.2,754.1 942.8,753.5 944.4,753.5 946,754 947.6,754 949.2,753.9 950.8,753.7 952.4,753.9 954,753.9 955.6,753.9 957.2,753.3 958.8,753.5 960.4,754 962,753.4 963.6,753.3 965.2,753.9 966.8,754.1 968.4,754.1 970,754.2 971.6,753.9 973.2,753.7 974.8,753.7 976.4,754 978,754.2 979.6,754.1 981.2,754 982.8,754.2 984.4,752.8 986,754.1 987.6,754.1 989.2,753.4 990.8,753.9 992.4,754 994,754.1 995.6,754.1 997.2,751.6 998.8,753.8 1000.4,754.1 1002,753.4 1003.6,754.1 1005.2,753.8 1006.8,754 1008.4,754.1 1010,753.7 1011.6,753.9 1013.2,753.8 1014.8,753.6 1016.4,753.8 1018,753.8 1019.6,754 1021.2,753.6 1022.8,753.3 1024.4,753.7 1026,753.4 1027.6,753.3 1029.2,752.9 1030.8,753.3 1032.4,753.7 1034,753.9 1035.6,753.7 1037.2,753.4 1038.8,753.7 1040.4,753.5 1042,754 1043.6,753.8 1045.2,753.4 1046.8,753.2 1048.4,752.7 1050,753.1 1051.6,753.4 1053.2,753.3 1054.8,753.7 1056.4,753.6 1058,753.2 1059.6,753.5 1061.2,753.3 1062.8,753.7 1064.4,753.3 1066,752.7 1067.6,753.1 1069.2,753.6 1070.8,753.6 1072.4,753.7 1074,753.2 1075.6,753.1 1077.2,753.2 1078.8,752.9 1080.4,753.6 1082,753.4 1083.6,753.5 1085.2,753.1 1086.8,753.1 1088.4,753.3 1090,753.2 1091.6,753 1093.2,753.4 1094.8,753 1096.4,753 1098,753.1 1099.6,753.1 1101.2,753.3 1102.8,753.1 1104.4,753 1106,753.3 1107.6,753.1 1109.2,752.9 1110.8,752.4 1112.4,753.1 1114,753.3 1115.6,753 1117.2,753.1 1118.8,753 1120.4,753 1122,752.8 1123.6,752.8 1125.2,753 1126.8,752.6 1128.4,752.9 1130,752.9 1131.6,752.9 1133.2,752.6 1134.8,752.2 1136.4,752.9 1138,752 1139.6,752.5 1141.2,752.3 1142.8,752.6 1144.4,753 1146,752.3 1147.6,751.7 1149.2,752.4 1150.8,752.5 1152.4,752.9 1154,752.8 1155.6,752.8 1157.2,753 1158.8,752.7 1160.4,752.7 1162,751.8 1163.6,752.7 1165.2,752.5 1166.8,752.4 1168.4,751.9 1170,752.5 1171.6,752.2 1173.2,752.1 1174.8,752.4 1176.4,752.6 1178,752.6 1179.6,752.6 1181.2,752.2 1182.8,752.2 1184.4,752.3 1186,752.6 1187.6,752.3 1189.2,751.9 1190.8,752.4 1192.4,751.7 1194,751.9 1195.6,752.4 1197.2,751.9 1198.8,751.8 1200.4,752.1 1202,751.9 1203.6,751.6 1205.2,751.2 1206.8,751.5 1208.4,751.4 1210,751.5 1211.6,751.6 1213.2,752.2 1214.8,752.1 1216.4,752.4 1218,752.2 1219.6,752.4 1221.2,752.4 1222.8,752.2 1224.4,751.1 1226,752.3 1227.6,751.8 1229.2,752.2 1230.8,752.4 1232.4,752.4 1234,752.4 1235.6,752.4 1237.2,752 1238.8,752.1 1240.4,752.3 1242,752.1 1243.6,752.1 1245.2,752.2 1246.8,752 1248.4,752.1 1250,752.4 1251.6,752.4 1253.2,752.1 1254.8,752.5 1256.4,752.6 1258,752.4 1259.6,752.1 1261.2,752.3 1262.8,752.1 1264.4,752.3 1266,752.5 1267.6,752.5 1269.2,752.3 1270.8,752.3 1272.4,752 1274,751.9 1275.6,752.6 1277.2,752.5 1278.8,752.4 1280.4,752.3 1282,752.2 1283.6,751.7 1285.2,752.5 1286.8,750.5 1288.4,752.3 1290,752.6 1291.6,752.6 1293.2,752 1294.8,752.4 1296.4,752.2 1298,752.5 1299.6,750.9 1301.2,752.3 1302.8,752.4 1304.4,751.9 1306,752.5 1307.6,752.6 1309.2,752.7 1310.8,751.3 1312.4,752.4 1314,752.7 1315.6,752.6 1317.2,752.3 1318.8,751.9 1320.4,752.7 1322,752.3 1323.6,752.7 1325.2,752.6 1326.8,752.8 1328.4,752.7 1330,752.5 1331.6,752.6 1333.2,752.5 1334.8,752.4 1336.4,752.6 1338,752.8 1339.6,752.8 1341.2,752.3 1342.8,752.3 1344.4,752.5 1346,751.1 1347.6,752.4 1349.2,752.2 1350.8,751.7 1352.4,752.6 1354,752.7 1355.6,752.1 1357.2,752.5 1358.8,752.5 1360.4,751.9 1362,752.4 1363.6,752.2 1365.2,752 1366.8,752.6 1368.4,752.7 1370,751.5 1371.6,752.5 1373.2,752.5 1374.8,752.6 1376.4,752.9 1378,752.5 1379.6,751.9 1381.2,751.4 1382.8,752.1 1384.4,752.6 1386,752.6 1387.6,752 1389.2,752 1390.8,752.8 1392.4,752.1 1394,752.9 1395.6,752 1397.2,752.8 1398.8,750.9 1400.4,752.9 1402,752.1 1403.6,752 1405.2,752.2 1406.8,752.9 1408.4,752.8 1410,752.7 1411.6,752.7 1413.2,752.8 1414.8,752.4 1416.4,752.5 1418,752.8 1419.6,752.4 1421.2,752.7 1422.8,752 1424.4,751.9 1426,752.5 1427.6,751.9 1429.2,752.4 1430.8,752.5 1432.4,752.1 1434,751.5 1435.6,752.4 1437.2,752 1438.8,752 1440.4,752.4 1442,751.8 1443.6,750.2 1445.2,752.3 1446.8,751.9 1448.4,752 1450,752 1451.6,752 1453.2,752.3 1454.8,752 1456.4,752.2 1458,751.9 1459.6,751.4 1461.2,751.6 1462.8,752.1 1464.4,752 1466,752 1467.6,752.1 1469.2,752 1470.8,751.6 1472.4,751.2 1474,751.7 1475.6,751.6 1477.2,752.2 1478.8,752.1 1480.4,752.2 1482,752.2 1483.6,751.7 1485.2,752 1486.8,751.5 1488.4,752.2 1490,751.7 1491.6,751.6 1493.2,752.2 1494.8,752.2 1496.4,751.6 1498,751.5 1499.6,751.6 1501.2,751.9 1502.8,752 1504.4,752.3 1506,751.9 1507.6,752.2 1509.2,751.8 1510.8,752.2 1512.4,751.8 1514,751.9 1515.6,752.2 1517.2,752.2 1518.8,751.8 1520.4,752 1522,751.4 1523.6,751.3 1525.2,751.6 1526.8,751.8 1528.4,751.9 1530,750.4 1531.6,752.1 1533.2,752.2 1534.8,752.5 1536.4,752.4 1538,752.4 1539.6,752.2 1541.2,752 1542.8,752.1 1544.4,752.7 1546,752.3 1547.6,752.2 1549.2,752.6 1550.8,752.8 1552.4,752.7 1554,752.9 1555.6,752.7 1557.2,753 1558.8,752.8 1560.4,752.5 1562,752.8 1563.6,751.6 1565.2,753.1 1566.8,753 1568.4,753.1 1570,753.1 1571.6,752.7 1573.2,753.3 1574.8,753.4 1576.4,753.4 1578,753.4 1579.6,753.2 1581.2,753.6 1582.8,752.7 1584.4,753 1586,753.3 1587.6,753.6 1589.2,753.5 1590.8,753.7 1592.4,753.3 1594,753.4 1595.6,753.5 1597.2,753.6 1598.8,753.4 1600.4,753.1 1602,753.8 1603.6,753.4 1605.2,753.4 1606.8,753.3 1608.4,753.5 1610,753.7 1611.6,753.7 1613.2,753.9 1614.8,753.6 1616.4,753.7 1618,753.8 1619.6,753.9 1621.2,753.7 1622.8,753.6 1624.4,753.9 1626,754 1627.6,753.5 1629.2,753.8 1630.8,752.6 1632.4,753.5 1634,754 1635.6,754 1637.2,754.1 1638.8,754 1640.4,754.2 1642,754.1 1643.6,753.7 1645.2,753.7 1646.8,753.6 1648.4,753.8 1650,753.7 1651.6,753.5 1653.2,751 1654.8,753.1 1656.4,751.5 1658,754.2 1659.6,753.6 1661.2,754 1662.8,753.9 1664.4,754 1666,754 1667.6,753.8 1669.2,753.6 1670.8,754 1672.4,753.8 1674,753.7 1675.6,753.8 1677.2,754.1 1678.8,754.1 1680.4,754 1682,753.9 1683.6,753.9 1685.2,753.9 1686.8,754.1 1688.4,754 1690,752.1 1691.6,753.7 1693.2,753.6 1694.8,754.2 1696.4,753.9 1698,754.1 1699.6,753.3 1701.2,753.2 1702.8,753.8 1704.4,754 1706,752.4 1707.6,753.8 1709.2,753.6 1710.8,753.7 1712.4,753.9 1714,753.8 1715.6,753.7 1717.2,753.4 1718.8,754 1720.4,753.6 1722,754 1723.6,753.8 1725.2,752.4 1726.8,754 1728.4,753.9 1730,754.2 1731.6,754 1733.2,753.9 1734.8,753.7 1736.4,753.7 1738,753.6 1739.6,753.5 1741.2,754 1742.8,753.8 1744.4,754 1746,753.9 1747.6,754.1 1749.2,753.8 1750.8,753.5 1752.4,753.7 1754,753.6 1755.6,753 1757.2,754 1758.8,753.9 1760.4,753.2 1762,753.2 1763.6,753.9 1765.2,754.1 1766.8,754 1768.4,754.1 1770,753.9 1771.6,753.6 1773.2,754.1 1774.8,753.5 1776.4,753.9 1778,754 1779.6,754.2 1781.2,753.8 1782.8,753.7 1784.4,754.2 1786,754 1787.6,753.9 1789.2,754.2 1790.8,754.1 1792.4,754.1 1794,754.2 1795.6,754.2 1797.2,753.8 1798.8,754.2 1800.4,753.6 1802,754.2 1803.6,753.7 1805.2,753.9 1806.8,754 1808.4,754.1 1810,754 1811.6,754 1813.2,753.7 1814.8,753.8 1816.4,754.1 1818,754.2 1819.6,754 1821.2,753.3 1822.8,753.7 1824.4,753.5 1826,753.2 1827.6,753.9 1829.2,754.1 1830.8,754.1 1832.4,753.9 1834,751.5 1835.6,753.5 1837.2,754.2 1838.8,754.1 1840.4,753.7 1842,753.4 1843.6,753.9 1845.2,753.6 1846.8,753.8 1848.4,754.1 1850,754.1 1851.6,753.9 1853.2,754.1 1854.8,753.9 1856.4,753.8 1858,753.9 1859.6,754 1861.2,753.7 1862.8,753.7 1864.4,753.7 1866,754 1867.6,754 1869.2,754 1870.8,753.9 1872.4,753.8 1874,753.1 1875.6,753.3 1877.2,753.9 1878.8,753.3 1880.4,753.9 1882,754 1883.6,753.8 1885.2,754 1886.8,753.8 1888.4,754.1 1890,754 1891.6,754 1893.2,754.2 1894.8,754.2 1896.4,753.9 1898,753.3 1899.6,753.9 1901.2,754.2 1902.8,754.1 1904.4,754.1 1906,753.5 1907.6,754 1909.2,753.5 1910.8,753.2 1912.4,753.8 1914,753.8 1915.6,753.1 1917.2,753.7 1918.8,754.2 1920.4,753.8 1922,754 1923.6,753.4 1925.2,753.7 1926.8,753.3 1928.4,753.5 1930,754 1931.6,754.2 1933.2,753.9 1934.8,754.1 1936.4,753.9 1938,752.5 1939.6,753.5 1941.2,753.8 1942.8,754.1 1944.4,754.1 1946,754.1 1947.6,754 1949.2,752.9 1950.8,753.5 1952.4,754.2 1954,753.8 1955.6,753.9 1957.2,753.4 1958.8,753.5 1960.4,752.7 1962,754.2 1963.6,753.9 1965.2,754 1966.8,754.2 1968.4,753.9 1970,753.2 1971.6,753.2 1973.2,753.8 1974.8,754.1 1976.4,753.6 1978,753.7 1979.6,754 1981.2,754.1 1982.8,754.1 1984.4,752.5 1986,754.2 1987.6,753.9 1989.2,753.7 1990.8,754.1 1992.4,754.2 1994,753.2 1995.6,754.2 1997.2,753.8 1998.8,753.4 2000.4,753.6 2002,754.1 2003.6,752.2 2005.2,753.8 2006.8,754.1 2008.4,754 2010,753.8 2011.6,753.8 2013.2,754.2 2014.8,754.1 2016.4,753.9 2018,753.6 2019.6,753.7 2021.2,752.1 2022.8,753.9 2024.4,752.2 2026,754 2027.6,751.8 2029.2,753.9 2030.8,753.7 2032.4,754.1 2034,753.7 2035.6,753.9 2037.2,754.1 2038.8,754 2040.4,754 2042,754 2043.6,753.3 2045.2,753.3 2046.8,753.6 2048.4,753.7 2050,753.7 2051.6,753 2053.2,753.2 2054.8,753.6 2056.4,753.2 2058,753.7 2059.6,753.7 2061.2,753.6 2062.8,753.4 2064.4,753.2 2066,753.8 2067.6,753.7 2069.2,753.6 2070.8,752.5 2072.4,753.7 2074,753.7 2075.6,754 2077.2,753.9 2078.8,753.5 2080.4,752.8 2082,752.9 2083.6,753.5 2085.2,753.7 2086.8,753.9 2088.4,753.5 2090,753.8 2091.6,753.9 2093.2,752.8 2094.8,752.4 2096.4,753.3 2098,753.8 2099.6,753.5 2101.2,753.2 2102.8,753.2 2104.4,753.8 2106,753.8 2107.6,753 2109.2,752.2 2110.8,753.2 2112.4,753.8 2114,753.7 2115.6,753.4 2117.2,753 2118.8,753.4 2120.4,753.5 2122,753.4 2123.6,753.2 2125.2,752.4 2126.8,753.5 2128.4,753.8 2130,751 2131.6,753.7 2133.2,753.6 2134.8,753.5 2136.4,753.1 2138,752.2 2139.6,753.2 2141.2,753.7 2142.8,753.3 2144.4,753.5 2146,753.2 2147.6,753 2149.2,753.3 2150.8,753 2152.4,753.1 2154,753.6 2155.6,752.9 2157.2,753.5 2158.8,753.6 2160.4,753.5 2162,753.4 2163.6,753.1 2165.2,752.9 2166.8,753.4 2168.4,753.6 2170,752.7 2171.6,753 2173.2,753.3 2174.8,753.5 2176.4,753.6 2178,753.5 2179.6,753.2 2181.2,752.8 2182.8,753.1 2184.4,753.5 2186,753.3 2187.6,753 2189.2,753.6 2190.8,753.4 2192.4,752.8 2194,753.1 2195.6,753.5 2197.2,753 2198.8,752.7 2200.4,752.8 2202,752.9 2203.6,752.6 2205.2,753.4 2206.8,753.3 2208.4,753.2 2210,753.2 2211.6,753 2213.2,753.2 2214.8,751.2 2216.4,752.4 2218,752.9 2219.6,752.7 2221.2,753.5 2222.8,752.2 2224.4,753.5 2226,752.5 2227.6,752.8 2229.2,752.4 2230.8,752.6 2232.4,753 2234,753.1 2235.6,753.2 2237.2,753.1 2238.8,751.8 2240.4,751.1 2242,752.8 2243.6,752.8 2245.2,752.7 2246.8,753.1 2248.4,752.3 2250,752.5 2251.6,753 2253.2,752.8 2254.8,753.3 2256.4,752.8 2258,752.5 2259.6,752.9 2261.2,752.9 2262.8,752.4 2264.4,752.9 2266,752.8 2267.6,751.1 2269.2,752 2270.8,752.6 2272.4,753.2 2274,752.5 2275.6,751 2277.2,751.9 2278.8,753.1 2280.4,752.4 2282,752.9 2283.6,752.7 2285.2,752 2286.8,752.1 2288.4,752.5 2290,753 2291.6,752.5 2293.2,752.6 2294.8,751.6 2296.4,751.7 2298,752.8 2299.6,752.6 2301.2,752.5 2302.8,752.8 2304.4,752.9 2306,752.9 2307.6,752.7 2309.2,752.8 2310.8,753 2312.4,752.9 2314,752.9 2315.6,752.4 2317.2,752.8 2318.8,752.3 2320.4,753 2322,753 2323.6,752.7 2325.2,752.6 2326.8,752.4 2328.4,752.4 2330,752.7 2331.6,752.3 2333.2,752.5 2334.8,752.8 2336.4,750.1 2338,752.6 2339.6,752.4 2341.2,751.8 2342.8,752.1 2344.4,752.8 2346,752.3 2347.6,752.4 2349.2,752.6 2350.8,752.8 2352.4,752.1 2354,752.2 2355.6,752.5 2357.2,752.4 2358.8,752.3 2360.4,752.2 2362,752.6 2363.6,752.3 2365.2,752.2 2366.8,752.5 2368.4,752.4 2370,752 2371.6,752.2 2373.2,752.4 2374.8,752.5 2376.4,750.9 2378,751.1 2379.6,751 2381.2,750.9 2382.8,752.2 2384.4,752 2386,752.2 2387.6,752.1 2389.2,751.9 2390.8,751.7 2392.4,751.6 2394,752.2 2395.6,752 2397.2,751 2398.8,751.3 2400.4,751.5 2402,752 2403.6,751.9 2405.2,751 2406.8,751.8 2408.4,751.9 2410,751.2 2411.6,751.1 2413.2,751.6 2414.8,751.9 2416.4,751.5 2418,751.3 2419.6,751.2 2421.2,751.3 2422.8,751.3 2424.4,750.9 2426,749.4 2427.6,751.1 2429.2,751.2 2430.8,751.5 2432.4,749.9 2434,747.6 2435.6,747.1 2437.2,746.1 2438.8,746.2 2440.4,745.7 2442,745.7 2443.6,746.6 2445.2,746.5 2446.8,741.3 2448.4,746.9 2450,745.1 2451.6,745.9 2453.2,745.4 2454.8,747 2456.4,747.6 2458,745 2459.6,747.4 2461.2,746.9 2462.8,748.2 2464.4,748.5 2466,747.4 2467.6,747.7 2469.2,749 2470.8,748.7 2472.4,749.2 2474,748.4 2475.6,749.2 2477.2,749.3 2478.8,748.4 2480.4,748.8 2482,749 2483.6,748.1 2485.2,747.3 2486.8,748.5 2488.4,749.2 2490,746.8 2491.6,748.9 2493.2,747.3 2494.8,748.9 2496.4,747.1 2498,748.9 2499.6,749.2 2501.2,748.7 2502.8,749.2 2504.4,747.7 2506,747.5 2507.6,748 2509.2,747 2510.8,747.7 2512.4,748.7 2514,748.9 2515.6,745.1 2517.2,749.4 2518.8,748.8 2520.4,749.2 2522,747.9 2523.6,746.7 2525.2,749.1 2526.8,748.3 2528.4,747.4 2530,748.7 2531.6,744.3 2533.2,748.7 2534.8,747 2536.4,746.7 2538,747.4 2539.6,748.4 2541.2,749.5 2542.8,749.5 2544.4,748.2 2546,748.5 2547.6,749.4 2549.2,747.5 2550.8,749.7 2552.4,749.6 2554,749.3 2555.6,749.1 2557.2,749.5 2558.8,750 2560.4,746.1 2562,748.6 2563.6,748.5 2565.2,748.4 2566.8,745.4 2568.4,744.9 2570,748.1 2571.6,746.2 2573.2,750.5 2574.8,749.6 2576.4,750.2 2578,748.3 2579.6,750.1 2581.2,750.3 2582.8,749.5 2584.4,746.9 2586,750 2587.6,748.2 2589.2,748.2 2590.8,750.8 2592.4,750 2594,750.5 2595.6,751 2597.2,747.4 2598.8,751.2 2600.4,747.3 2602,746.4 2603.6,750.6 2605.2,750.5 2606.8,750.9 2608.4,750.7 2610,750 2611.6,751.2 2613.2,750.3 2614.8,750.8 2616.4,751.3 2618,750.9 2619.6,751 2621.2,750.7 2622.8,751 2624.4,751.5 2626,750.8 2627.6,750.8 2629.2,750.3 2630.8,750.9 2632.4,751.3 2634,748.6 2635.6,749.5 2637.2,751.1 2638.8,751.2 2640.4,751.6 2642,750.4 2643.6,751.6 2645.2,751.5 2646.8,750.5 2648.4,750.1 2650,750.6 2651.6,751.7 2653.2,751.6 2654.8,751.2 2656.4,751.6 2658,751.7 2659.6,751.2 2661.2,751.1 2662.8,751.7 2664.4,750.1 2666,751.5 2667.6,751.6 2669.2,750.7 2670.8,751.1 2672.4,751.2 2674,751.1 2675.6,749.6 2677.2,751.7 2678.8,751.7 2680.4,751.9 2682,752 2683.6,751.7 2685.2,751.6 2686.8,751.8 2688.4,751.7 2690,751.7 2691.6,752 2693.2,751.3 2694.8,751.2 2696.4,751.7 2698,751.3 2699.6,751.5 2701.2,751.4 2702.8,751.3 2704.4,751.9 2706,752.1 2707.6,751.9 2709.2,751.7 2710.8,751.1 2712.4,751.9 2714,751.6 2715.6,752.1 2717.2,751.7 2718.8,752.1 L2720.0,761.5Z"/>
</defs>
<rect x="81.30" y="31.20" width="2638.70" height="730.30" fill="#000"/>
<g filter="url(#nf)" style="isolation:isolate"><rect x="79.30" y="29.20" width="2642.70" height="734.30" fill="url(#gy)"/><rect x="79.30" y="29.20" width="2642.70" height="734.30" fill="url(#gx)" style="mix-blend-mode:screen"/><g style="mix-blend-mode:screen"><use href="#gl" y="-1.1" fill="rgb(0,0,76)"/></g><g style="mix-blend-mode:screen"><use href="#gl" y="-0.1" fill="rgb(0,0,117)"/></g><g style="mix-blend-mode:screen"><use href="#gl" y="1.1" fill="rgb(0,0,255)"/></g></g>
<path d="M2442,760.5H2716" stroke="#f00" stroke-width="1" stroke-dasharray="6 2 3 4 9 3 2 5 12 4 1 6" fill="none"/>
<path d="M2442,756.6H2478" stroke="#f00" stroke-width="1" stroke-dasharray="4 2 2 3 1 4 2 6" fill="none"/>
<path d="M1088,760.2H1533" stroke="#f00" stroke-width="1" stroke-dasharray="1 7 2 11 1 5 1 13 2 3" fill="none"/>
<path d="M1436,759.4H1530" stroke="#ff9600" stroke-width="1.4" stroke-dasharray="2 3 1 2 3 4 1 1" fill="none"/>
<path d="M1150,759.6H1533" stroke="#ffe600" stroke-width="1" stroke-dasharray="1 9 1 17 2 6 1 4" fill="none"/>
<path d="M1200,760H1520" stroke="#28d282" stroke-width="1" stroke-dasharray="1 23 1 14 1 8" fill="none"/>
<path d="M81.30,761.50H2720.00M81.30,705.50H2720.00M81.30,649.50H2720.00M81.30,592.50H2720.00M81.30,536.50H2720.00M81.30,480.50H2720.00M81.30,424.50H2720.00M81.30,368.50H2720.00M81.30,312.50H2720.00M81.30,255.50H2720.00M81.30,199.50H2720.00M81.30,143.50H2720.00M81.30,87.50H2720.00M81.30,31.50H2720.00M81.50,761.50V31.20M301.50,761.50V31.20M521.50,761.50V31.20M740.50,761.50V31.20M960.50,761.50V31.20M1180.50,761.50V31.20M1400.50,761.50V31.20M1620.50,761.50V31.20M1840.50,761.50V31.20M2060.50,761.50V31.20M2280.50,761.50V31.20M2500.50,761.50V31.20M2720.50,761.50V31.20" stroke="#fff" stroke-width="1.39" stroke-dasharray="5.14 2.22" fill="none"/>
<path d="M842.13,761.50V31.20" stroke="#fff" stroke-width="5.3" stroke-dasharray="18.1 7.66" fill="none"/>
<path d="M1767.32,761.50V31.20" stroke="#fff" stroke-width="5.3" stroke-dasharray="18.1 7.66" fill="none"/>
<rect x="81.5" y="31.5" width="2638.5" height="730" fill="none" stroke="#333" stroke-width="0.85"/>
<path d="M81.30,761.50h-2.1M81.30,705.50h-2.1M81.30,649.50h-2.1M81.30,592.50h-2.1M81.30,536.50h-2.1M81.30,480.50h-2.1M81.30,424.50h-2.1M81.30,368.50h-2.1M81.30,312.50h-2.1M81.30,255.50h-2.1M81.30,199.50h-2.1M81.30,143.50h-2.1M81.30,87.50h-2.1M81.30,31.50h-2.1M81.50,761.50v2.1M301.50,761.50v2.1M521.50,761.50v2.1M740.50,761.50v2.1M960.50,761.50v2.1M1180.50,761.50v2.1M1400.50,761.50v2.1M1620.50,761.50v2.1M1840.50,761.50v2.1M2060.50,761.50v2.1M2280.50,761.50v2.1M2500.50,761.50v2.1M2720.50,761.50v2.1" stroke="#333" stroke-width="0.85" fill="none"/>
<text x="1400.7" y="24.8" text-anchor="middle" xml:space="preserve">LMU-MIM, Munich; 48.148° N 11.573° E, altitude: 539 m    Lufft CHM15kx (CHM15kxLMU): 13-12-2025    firmware: 1.11</text>
<text x="75.5" y="771.6" text-anchor="end" class="n">0.</text>
<text x="75.5" y="715.4" text-anchor="end" class="n">1.</text>
<text x="75.5" y="659.2" text-anchor="end" class="n">2.</text>
<text x="75.5" y="603.1" text-anchor="end" class="n">3.</text>
<text x="75.5" y="546.9" text-anchor="end" class="n">4.</text>
<text x="75.5" y="490.7" text-anchor="end" class="n">5.</text>
<text x="75.5" y="434.5" text-anchor="end" class="n">6.</text>
<text x="75.5" y="378.4" text-anchor="end" class="n">7.</text>
<text x="75.5" y="322.2" text-anchor="end" class="n">8.</text>
<text x="75.5" y="266.0" text-anchor="end" class="n">9.</text>
<text x="75.5" y="209.8" text-anchor="end" class="n">10.</text>
<text x="75.5" y="153.7" text-anchor="end" class="n">11.</text>
<text x="75.5" y="97.5" text-anchor="end" class="n">12.</text>
<text x="75.5" y="41.3" text-anchor="end" class="n">13.</text>
<text x="94.4" y="787" text-anchor="middle" class="n">00</text>
<text x="301.5" y="787" text-anchor="middle" class="n">02</text>
<text x="521.4" y="787" text-anchor="middle" class="n">04</text>
<text x="741.3" y="787" text-anchor="middle" class="n">06</text>
<text x="961.2" y="787" text-anchor="middle" class="n">08</text>
<text x="1181.1" y="787" text-anchor="middle" class="n">10</text>
<text x="1400.9" y="787" text-anchor="middle" class="n">12</text>
<text x="1620.8" y="787" text-anchor="middle" class="n">14</text>
<text x="1840.7" y="787" text-anchor="middle" class="n">16</text>
<text x="2060.6" y="787" text-anchor="middle" class="n">18</text>
<text x="2280.5" y="787" text-anchor="middle" class="n">20</text>
<text x="2500.4" y="787" text-anchor="middle" class="n">22</text>
<text x="2720.3" y="787" text-anchor="middle" class="n">24</text>
<text x="1400.7" y="814.5" text-anchor="middle">Time [UTC]</text>
<text x="842.1" y="811" text-anchor="middle">sunrise</text>
<text x="1767.3" y="811" text-anchor="middle">sunset</text>
<text transform="translate(24.3,397.7) rotate(-90)" text-anchor="middle">Height above ground [km]</text>
<rect x="2884.6" y="31.0" width="37.0" height="730.4" fill="none" stroke="#000" stroke-width="1.1"/>
<rect x="2884.6" y="735.84" width="37.0" height="25.56" fill="#aa91aa"/>
<rect x="2884.6" y="713.68" width="37.0" height="22.76" fill="#a06ea0"/>
<rect x="2884.6" y="695.66" width="37.0" height="18.62" fill="#964b96"/>
<rect x="2884.6" y="677.16" width="37.0" height="19.10" fill="#8c288c"/>
<rect x="2884.6" y="658.90" width="37.0" height="18.86" fill="#780078"/>
<rect x="2884.6" y="642.59" width="37.0" height="16.91" fill="#6e00a0"/>
<rect x="2884.6" y="626.76" width="37.0" height="16.43" fill="#4b00b4"/>
<rect x="2884.6" y="611.67" width="37.0" height="15.69" fill="#0014e6"/>
<rect x="2884.6" y="596.57" width="37.0" height="15.69" fill="#0050ff"/>
<rect x="2884.6" y="583.91" width="37.0" height="13.26" fill="#3c64ff"/>
<rect x="2884.6" y="569.30" width="37.0" height="15.21" fill="#5078ff"/>
<rect x="2884.6" y="556.64" width="37.0" height="13.26" fill="#6e82ff"/>
<rect x="2884.6" y="543.50" width="37.0" height="13.75" fill="#8c8cff"/>
<rect x="2884.6" y="531.57" width="37.0" height="12.53" fill="#8ca5ff"/>
<rect x="2884.6" y="519.64" width="37.0" height="12.53" fill="#87befa"/>
<rect x="2884.6" y="508.19" width="37.0" height="12.04" fill="#28c3a5"/>
<rect x="2884.6" y="496.02" width="37.0" height="12.77" fill="#1ea08c"/>
<rect x="2884.6" y="483.85" width="37.0" height="12.77" fill="#0f8c2d"/>
<rect x="2884.6" y="473.14" width="37.0" height="11.31" fill="#14aa0a"/>
<rect x="2884.6" y="461.94" width="37.0" height="11.80" fill="#1ebe50"/>
<rect x="2884.6" y="449.28" width="37.0" height="13.26" fill="#28d282"/>
<rect x="2884.6" y="436.86" width="37.0" height="13.02" fill="#3ceba0"/>
<rect x="2884.6" y="424.69" width="37.0" height="12.77" fill="#78ff78"/>
<rect x="2884.6" y="411.54" width="37.0" height="13.75" fill="#c8ff3c"/>
<rect x="2884.6" y="397.66" width="37.0" height="14.48" fill="#e1ff3c"/>
<rect x="2884.6" y="384.76" width="37.0" height="13.50" fill="#ffe600"/>
<rect x="2884.6" y="368.69" width="37.0" height="16.67" fill="#ffb400"/>
<rect x="2884.6" y="351.89" width="37.0" height="17.40" fill="#ff9600"/>
<rect x="2884.6" y="329.49" width="37.0" height="23.00" fill="#ff5a00"/>
<rect x="2884.6" y="305.39" width="37.0" height="24.70" fill="#f02020"/>
<rect x="2884.6" y="275.68" width="37.0" height="30.30" fill="#ff0000"/>
<rect x="2884.6" y="239.41" width="37.0" height="36.88" fill="#f0c8c8"/>
<rect x="2884.6" y="193.15" width="37.0" height="46.86" fill="#ebe4e4"/>
<rect x="2884.6" y="31.00" width="37.0" height="162.75" fill="#ffffff"/>
<rect x="2884.3" y="759.9" width="37.3" height="1.6" fill="#000"/>
<text x="2935.3" y="771.5" class="n">4.2</text>
<text x="2935.3" y="649.8" class="n">4.7</text>
<text x="2935.3" y="528.0" class="n">5.2</text>
<text x="2935.3" y="406.3" class="n">5.7</text>
<text x="2935.3" y="284.6" class="n">6.2</text>
<text x="2935.3" y="162.8" class="n">6.7</text>
<text x="2935.3" y="41.1" class="n">7.2</text>
<path d="M2921.6,761.40h2.1M2921.6,639.67h2.1M2921.6,517.93h2.1M2921.6,396.20h2.1M2921.6,274.47h2.1M2921.6,152.73h2.1M2921.6,31.00h2.1" stroke="#333" stroke-width="0.85" fill="none"/>
<text transform="translate(2998.2,397.8) rotate(-90)" text-anchor="middle">log(rc-signal) @ 1064 nm</text>
</svg></body></html>
